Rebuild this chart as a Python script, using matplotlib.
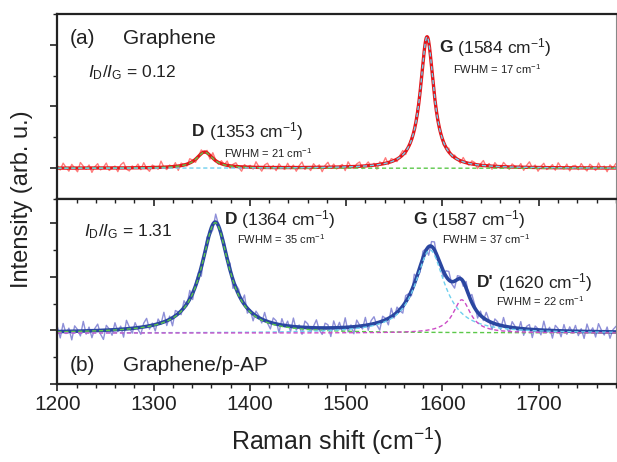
import numpy as np
import matplotlib.pyplot as plt
from matplotlib.ticker import MultipleLocator

plt.rcParams['font.family'] = ['Liberation Sans', 'DejaVu Sans']
plt.rcParams['mathtext.fontset'] = 'custom'
plt.rcParams['mathtext.rm'] = 'Liberation Sans'
plt.rcParams['mathtext.it'] = 'Liberation Sans:italic'
plt.rcParams['mathtext.bf'] = 'Liberation Sans:bold'

# =================================
# Peak parameters (Lorentzian fits)
# =================================
top_names = ['D', 'G']
top_centers = [1353, 1584]
top_fwhm = [21, 17]
top_heights = [0.26, 2.13]
top_offset = 0.0

bot_names = ['D', 'G', "D'"]
bot_centers = [1364, 1587, 1620]
bot_fwhm = [35, 37, 22]
bot_heights = [2.06, 1.55, 0.62]
bot_offset = -0.05

# measured minus fit, in 0.01 units, every ~3 cm-1 from 1200 to 1780
top_resid = [4, -3, 8, 1, -5, 6, 0, -6, 9, 3, -2, 5, -7, 2, 7, -3, 1, 8, -4, 0,
             3, -6, 5, 9, -2, -5, 3, 0, 6, -3, 8, -1, -6, 4, 1, -3, 10, 0, -4, 3,
             -2, 6, -7, 4, 1, -3, 7, 2, -5, 0, 6, -2, 4, -6, 9, 1, -3, 5, 0, 7,
             -4, 3, 6, -1, -7, 4, 0, 3, -3, 9, 1, -6, 4, 7, -2, 3, -5, 6, 0, -3,
             7, -2, 4, -6, 3, 9, -3, 1, -5, 6, 0, 4, -7, 3, 8, -2, 5, -3, 1, 4,
             -6, 8, 0, -3, 4, 7, -4, 1, 6, -2, 3, -7, 4, 0, 9, -3, 5, 1, -4, 3,
             7, -5, 0, 4, -2, 8, -3, 5, 1, -4, 3, 7, -2, 4, -6, 0, 6, -3, 4, 1,
             -4, 7, 0, -3, 5, 3, -6, 2, 8, -1, 4, -5, 6, 0, -3, 7, 2, -4, 5, 1,
             -2, 6, -5, 3, 9, -1, 4, -6, 2, 7, -3, 0, 5, -4, 8, 1, -2, 6, -5, 3,
             4, -3, 7, 0, -5, 6, 2, -4, 8, -1, 3, -6, 5, 0, 7]
bot_resid = [9, -12, 15, -4, 6, -16, 10, 3, -9, 18, -6, 7, -13, 4, 12, -7, -17, 9, 2, -10,
             13, -4, 6, -15, 16, 3, -9, 10, -3, -13, 7, 15, -6, 4, -12, 9, -2, 18, -9, 6,
             -15, 10, 3, -7, 13, -4, 16, -12, 6, 9, -17, 4, 12, -6, -10, 15, 2, -9, 7, -3,
             13, -16, 6, 10, -4, 18, -9, 3, -13, 9, 4, -7, 15, -3, -12, 10, 6, -15, 12, -2,
             9, -10, 16, -6, 4, -13, 12, 7, -9, 3, 15, -4, -12, 9, 6, -16, 13, -3, 10, -7,
             18, -9, 4, -13, 12, 2, -6, 15, -10, 7, 13, -4, -15, 9, 3, -12, 16, -6, 10, -2,
             -13, 12, 6, -9, 18, -3, -10, 13, 4, -16, 9, 15, -7, 3, -12, 10, 16, -4, -13, 7,
             4, -9, 12, -3, 15, 6, -11, 8, -5, 14, 2, -13, 9, 5, -8, 16, -2, -10, 11, 3,
             -7, 13, -12, 5, 9, -15, 7, 2, -9, 17, -4, 6, -14, 10, 4, -11, 12, -6, 8, -3,
             11, -8, 5, -13, 14, -2, 7, -10, 15, 3, -6, 9, -12, 4, 10]


def lorentz(x, x0, fwhm, h):
    g = fwhm / 2.0
    return h * g**2 / ((x - x0)**2 + g**2)


def model(x, centers, fwhm, heights, offset):
    return offset + sum(lorentz(x, c, w, h) for c, w, h in zip(centers, fwhm, heights))


x_fine = np.linspace(1200, 1780, 1200)
x_top = np.linspace(1200, 1780, len(top_resid))
x_bot = np.linspace(1200, 1780, len(bot_resid))

fig = plt.figure(figsize=(6.17, 4.62), dpi=100)
ax1 = fig.add_axes([0.093, 0.569, 0.905, 0.401])
ax2 = fig.add_axes([0.093, 0.169, 0.905, 0.400])

# ---- (a) graphene
ax1.plot(x_top, model(x_top, top_centers, top_fwhm, top_heights, top_offset) + np.array(top_resid) * 0.01,
         color='#ff7b7b', lw=1.0)
ax1.plot(x_fine, model(x_fine, top_centers, top_fwhm, top_heights, top_offset), color='#e3161b', lw=2.4)
comp_top = ['#5cc84a', '#6fd0ee']
for c, w, h, col in zip(top_centers, top_fwhm, top_heights, comp_top):
    ax1.plot(x_fine, top_offset + lorentz(x_fine, c, w, h), color=col, lw=1.0, dashes=(3, 2))

# ---- (b) graphene/p-AP
ax2.plot(x_bot, model(x_bot, bot_centers, bot_fwhm, bot_heights, bot_offset) + np.array(bot_resid) * 0.01,
         color='#8e8fd8', lw=1.0)
ax2.plot(x_fine, model(x_fine, bot_centers, bot_fwhm, bot_heights, bot_offset), color='#2a46a0', lw=2.6)
comp_bot = ['#5cc84a', '#6fd0ee', '#cc4cc6']
for c, w, h, col in zip(bot_centers, bot_fwhm, bot_heights, comp_bot):
    ax2.plot(x_fine, bot_offset + lorentz(x_fine, c, w, h), color=col, lw=1.0, dashes=(3, 2))

for ax in (ax1, ax2):
    ax.set_xlim(1200, 1780)
    ax.yaxis.set_major_locator(MultipleLocator(1))
    ax.yaxis.set_minor_locator(MultipleLocator(0.5))
    ax.set_yticklabels([])
    ax.tick_params(axis='y', which='major', direction='out', length=5, width=1.2, color='#222222')
    ax.tick_params(axis='y', which='minor', direction='out', length=3, width=1.0, color='#222222')
    for side in ('left', 'top', 'bottom'):
        ax.spines[side].set_linewidth(1.6)
        ax.spines[side].set_color('#222222')
    ax.spines['right'].set_linewidth(0.8)
    ax.spines['right'].set_color('#888888')

ax1.set_ylim(-0.5, 2.5)
ax2.set_ylim(-1.0, 2.45)

ax1.tick_params(axis='x', which='both', bottom=False, labelbottom=False)
ax2.xaxis.set_major_locator(MultipleLocator(100))
ax2.xaxis.set_minor_locator(MultipleLocator(20))
ax2.tick_params(axis='x', which='both', top=True, labelsize=15, colors='#222222')
ax2.tick_params(axis='x', which='major', direction='out', length=5, width=1.2, pad=3)
ax2.tick_params(axis='x', which='minor', direction='out', length=3, width=1.0)
# top ticks of lower panel point inward
for t in ax2.xaxis.get_major_ticks() + ax2.xaxis.get_minor_ticks():
    t.tick2line.set_marker(3)

ax2.set_xlabel('Raman shift (cm$^{-1}$)', fontsize=18, color='#222222', labelpad=8)
fig.text(0.035, 0.569, 'Intensity (arb. u.)', rotation=90, fontsize=17, color='#222222',
         ha='center', va='center')

tc = '#222222'


def peak_label(ax, x, y, name, pos, fwhm_x, fwhm_y, fwhm):
    t = ax.text(x, y, name, fontsize=12.5, fontweight='bold', color=tc, va='center')
    ax.annotate(' (%d cm$^{-1}$)' % pos, xy=(1, 0.5), xycoords=t, fontsize=12.5,
                color=tc, va='center')
    ax.text(fwhm_x, fwhm_y, 'FWHM = %d cm$^{-1}$' % fwhm, fontsize=8, color=tc, va='center')


ax1.text(1213, 2.1, '(a)', fontsize=15, color=tc, va='center')
ax1.text(1268, 2.1, 'Graphene', fontsize=15, color=tc, va='center')
ax1.text(1232, 1.55, '$I_{\\mathrm{D}}/I_{\\mathrm{G}}$ = 0.12', fontsize=12.5, color=tc, va='center')
peak_label(ax1, 1340, 0.6, top_names[0], top_centers[0], 1373, 0.25, top_fwhm[0])
peak_label(ax1, 1597, 1.95, top_names[1], top_centers[1], 1611, 1.6, top_fwhm[1])

ax2.text(1228, 1.85, '$I_{\\mathrm{D}}/I_{\\mathrm{G}}$ = 1.31', fontsize=12.5, color=tc, va='center')
peak_label(ax2, 1374, 2.07, bot_names[0], bot_centers[0], 1387, 1.7, bot_fwhm[0])
peak_label(ax2, 1570, 2.07, bot_names[1], bot_centers[1], 1600, 1.7, bot_fwhm[1])
peak_label(ax2, 1636, 0.9, bot_names[2], bot_centers[2], 1656, 0.55, bot_fwhm[2])
ax2.text(1213, -0.65, '(b)', fontsize=15, color=tc, va='center')
ax2.text(1268, -0.65, 'Graphene/p-AP', fontsize=15, color=tc, va='center')

fig.savefig('out.png', dpi=100)
